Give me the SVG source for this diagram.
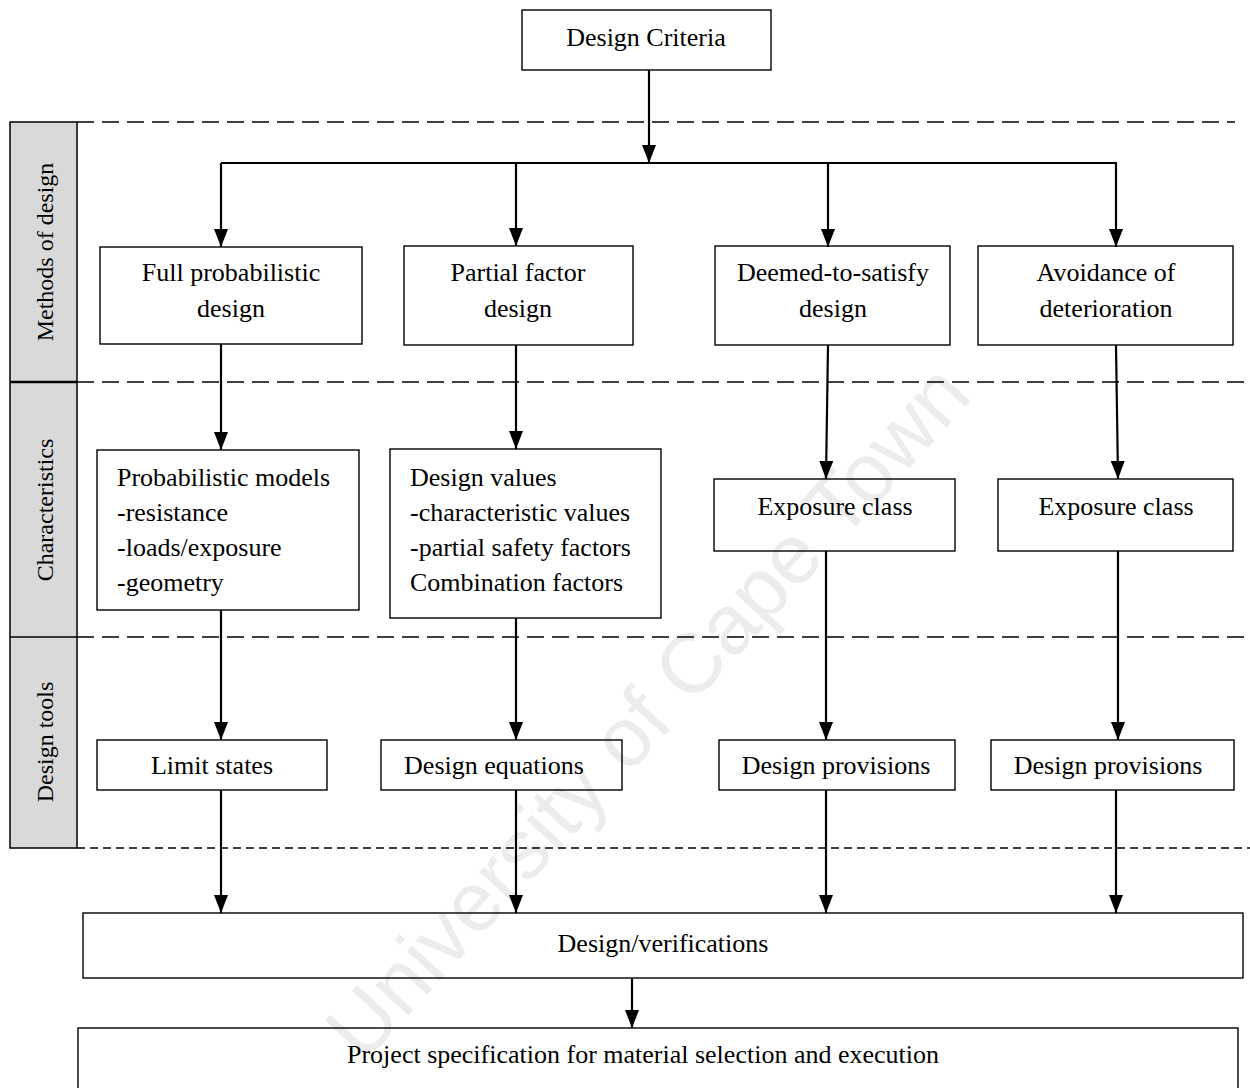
<svg xmlns="http://www.w3.org/2000/svg" width="1250" height="1088" viewBox="0 0 1250 1088">
<style>
.box{fill:none;stroke:#000;stroke-width:1.4}
.t{font-family:"Liberation Serif","Times New Roman",serif;font-size:26px;fill:#000}
.c{text-anchor:middle}
.side{font-family:"Liberation Serif","Times New Roman",serif;font-size:24px;fill:#000;text-anchor:middle}
.conn{fill:none;stroke:#000;stroke-width:2.2}
.dash{fill:none;stroke:#000;stroke-width:1.6;stroke-dasharray:17 8}
.dash2{fill:none;stroke:#000;stroke-width:1.3;stroke-dasharray:8 5}
.wm{font-family:"Liberation Sans",Arial,sans-serif;font-size:84px;fill:#ececec;text-anchor:middle}
</style>
<defs>
<marker id="ah2" markerUnits="userSpaceOnUse" markerWidth="18" markerHeight="14" viewBox="0 0 18 14" refX="18" refY="7" orient="auto">
<path d="M0,0 L18,7 L0,14 z" fill="#000"/>
</marker>
</defs>
<rect width="1250" height="1088" fill="#fff"/>

<text class="wm" x="648" y="740" transform="rotate(-47.5 648 712)">University of Cape Town</text>

<g id="side-panel">
<rect x="10" y="122" width="67" height="726" fill="#d9d9d9" stroke="#000" stroke-width="1.5"/>
<line x1="10" y1="382" x2="77" y2="382" stroke="#000" stroke-width="2.5"/>
<line x1="10" y1="637" x2="77" y2="637" stroke="#000" stroke-width="1.5"/>
<text class="side" x="53" y="252" transform="rotate(-90 53 252)">Methods of design</text>
<text class="side" x="53" y="510" transform="rotate(-90 53 510)">Characteristics</text>
<text class="side" x="53" y="742" transform="rotate(-90 53 742)">Design tools</text>
</g>

<g id="separators">
<line class="dash" x1="77" y1="122" x2="1235" y2="122"/>
<line class="dash" x1="77" y1="382" x2="1250" y2="382"/>
<line class="dash" x1="77" y1="637" x2="1250" y2="637"/>
<line class="dash2" x1="77" y1="848" x2="1250" y2="848"/>
</g>

<g id="connectors">
<line class="conn" x1="649" y1="70" x2="649" y2="163" marker-end="url(#ah2)"/>
<line class="conn" x1="221" y1="163" x2="1117" y2="163"/>
<line class="conn" x1="221" y1="163" x2="221" y2="247" marker-end="url(#ah2)"/>
<line class="conn" x1="516" y1="163" x2="516" y2="246" marker-end="url(#ah2)"/>
<line class="conn" x1="828" y1="163" x2="828" y2="247" marker-end="url(#ah2)"/>
<line class="conn" x1="1116" y1="163" x2="1116" y2="247" marker-end="url(#ah2)"/>

<line class="conn" x1="221" y1="344" x2="221" y2="450" marker-end="url(#ah2)"/>
<line class="conn" x1="516" y1="345" x2="516" y2="449" marker-end="url(#ah2)"/>
<line class="conn" x1="828" y1="345" x2="826" y2="479" marker-end="url(#ah2)"/>
<line class="conn" x1="1116" y1="345" x2="1118" y2="479" marker-end="url(#ah2)"/>

<line class="conn" x1="221" y1="610" x2="221" y2="740" marker-end="url(#ah2)"/>
<line class="conn" x1="516" y1="618" x2="516" y2="740" marker-end="url(#ah2)"/>
<line class="conn" x1="826" y1="551" x2="826" y2="740" marker-end="url(#ah2)"/>
<line class="conn" x1="1118" y1="551" x2="1118" y2="740" marker-end="url(#ah2)"/>

<line class="conn" x1="221" y1="790" x2="221" y2="913" marker-end="url(#ah2)"/>
<line class="conn" x1="516" y1="790" x2="516" y2="913" marker-end="url(#ah2)"/>
<line class="conn" x1="826" y1="790" x2="826" y2="913" marker-end="url(#ah2)"/>
<line class="conn" x1="1116" y1="790" x2="1116" y2="913" marker-end="url(#ah2)"/>

<line class="conn" x1="632" y1="978" x2="632" y2="1028" marker-end="url(#ah2)"/>
</g>

<g id="design-criteria">
<rect class="box" x="522" y="10" width="249" height="60"/>
<text class="t c" x="646" y="46">Design Criteria</text>
</g>

<g id="full-probabilistic">
<rect class="box" x="100" y="247" width="262" height="97"/>
<text class="t c" x="231" y="281">Full probabilistic</text>
<text class="t c" x="231" y="317">design</text>
</g>
<g id="partial-factor">
<rect class="box" x="404" y="246" width="229" height="99"/>
<text class="t c" x="518" y="281">Partial factor</text>
<text class="t c" x="518" y="317">design</text>
</g>
<g id="deemed">
<rect class="box" x="715" y="246" width="235" height="99"/>
<text class="t c" x="833" y="281">Deemed-to-satisfy</text>
<text class="t c" x="833" y="317">design</text>
</g>
<g id="avoidance">
<rect class="box" x="978" y="246" width="255" height="99"/>
<text class="t c" x="1106" y="281">Avoidance of</text>
<text class="t c" x="1106" y="317">deterioration</text>
</g>

<g id="probabilistic-models">
<rect class="box" x="97" y="450" width="262" height="160"/>
<text class="t" x="117" y="486">Probabilistic models</text>
<text class="t" x="117" y="521">-resistance</text>
<text class="t" x="117" y="556">-loads/exposure</text>
<text class="t" x="117" y="591">-geometry</text>
</g>
<g id="design-values">
<rect class="box" x="390" y="449" width="271" height="169"/>
<text class="t" x="410" y="486">Design values</text>
<text class="t" x="410" y="521">-characteristic values</text>
<text class="t" x="410" y="556">-partial safety factors</text>
<text class="t" x="410" y="591">Combination factors</text>
</g>
<g id="exposure-1">
<rect class="box" x="714" y="479" width="241" height="72"/>
<text class="t c" x="835" y="515">Exposure class</text>
</g>
<g id="exposure-2">
<rect class="box" x="998" y="479" width="235" height="72"/>
<text class="t c" x="1116" y="515">Exposure class</text>
</g>

<g id="limit-states">
<rect class="box" x="97" y="740" width="230" height="50"/>
<text class="t c" x="212" y="774">Limit states</text>
</g>
<g id="design-equations">
<rect class="box" x="381" y="740" width="241" height="50"/>
<text class="t c" x="494" y="774">Design equations</text>
</g>
<g id="design-provisions-1">
<rect class="box" x="719" y="740" width="236" height="50"/>
<text class="t c" x="836" y="774">Design provisions</text>
</g>
<g id="design-provisions-2">
<rect class="box" x="991" y="740" width="243" height="50"/>
<text class="t c" x="1108" y="774">Design provisions</text>
</g>

<g id="design-verifications">
<rect class="box" x="83" y="913" width="1160" height="65"/>
<text class="t c" x="663" y="952">Design/verifications</text>
</g>
<g id="project-specification">
<rect class="box" x="78" y="1028" width="1160" height="70"/>
<text class="t c" x="643" y="1063">Project specification for material selection and execution</text>
</g>
</svg>
